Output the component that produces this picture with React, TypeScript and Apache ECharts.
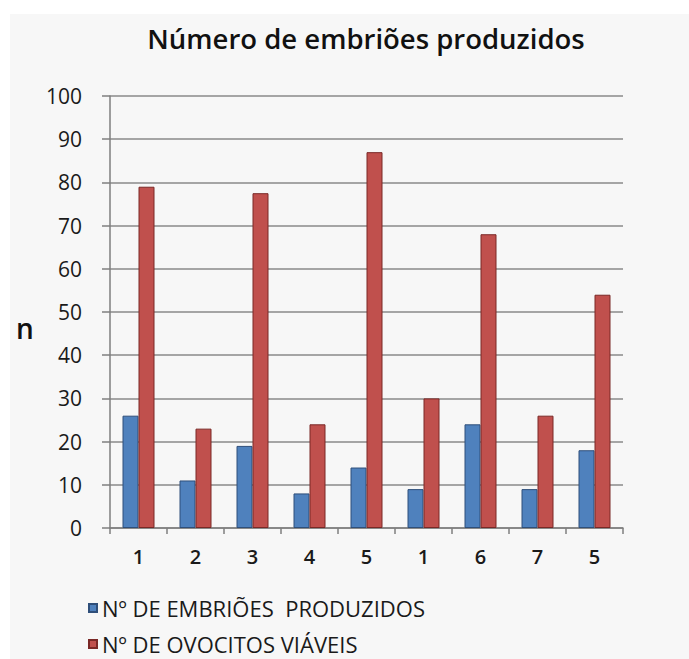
import React, { useEffect, useRef } from "react";
import * as echarts from "echarts";

const categories = ["1", "2", "3", "4", "5", "1", "6", "7", "5"];
const embrioes = [26, 11, 19, 8, 14, 9, 24, 9, 18];
const ovocitos = [79, 23, 77.5, 24, 87, 30, 68, 26, 54];
const seriesNames = ["Nº DE EMBRIÕES  PRODUZIDOS", "Nº DE OVOCITOS VIÁVEIS"];
const titleText = "Número de embriões produzidos";
const yAxisName = "n";

export default function App() {
  const ref = useRef<HTMLDivElement>(null);
  useEffect(() => {
    if (!ref.current) return;
    const chart = echarts.init(ref.current, undefined, { renderer: "svg" });
    const font = "'Open Sans', 'Noto Sans', sans-serif";
    const legendText = { fontSize: 22, lineHeight: 24, color: "#1a1a1a", fontFamily: font };
    chart.setOption({
      animation: false,
      backgroundColor: "#ffffff",
      graphic: [
        {
          type: "rect",
          z: -10,
          silent: true,
          shape: { x: 10, y: 14, width: 700, height: 660 },
          style: { fill: "#f7f7f7" },
        },
        {
          type: "text",
          left: 16,
          top: 314,
          style: { text: yAxisName, fontSize: 28, fontFamily: font, fill: "#111", fontWeight: 600 },
        },
      ],
      title: {
        text: titleText,
        left: 361,
        textAlign: "center",
        top: 19,
        textStyle: { fontSize: 27.5, fontWeight: 600, color: "#111", fontFamily: font },
      },
      legend: [
        {
          orient: "vertical",
          left: 88,
          top: 596,
          padding: 0,
          itemWidth: 8,
          itemHeight: 8,
          icon: "rect",
          textStyle: legendText,
          data: [seriesNames[0]],
        },
        {
          orient: "vertical",
          left: 88,
          top: 632,
          padding: 0,
          itemWidth: 8,
          itemHeight: 8,
          icon: "rect",
          textStyle: legendText,
          data: [seriesNames[1]],
        },
      ],
      grid: { left: 110, right: 66, top: 96, bottom: 131, containLabel: false },
      xAxis: {
        type: "category",
        data: categories,
        axisLine: { show: true, lineStyle: { color: "#7f7f7f", width: 1.5 } },
        axisTick: { show: true, length: 6, lineStyle: { color: "#7f7f7f", width: 1.5 } },
        axisLabel: { fontSize: 20, color: "#1a1a1a", fontFamily: font, margin: 18, fontWeight: 600 },
      },
      yAxis: {
        type: "value",
        min: 0,
        max: 100,
        interval: 10,
        axisLine: { show: true, lineStyle: { color: "#7f7f7f", width: 1.5 } },
        axisTick: { show: true, length: 8, lineStyle: { color: "#7f7f7f", width: 1.5 } },
        splitLine: { show: true, lineStyle: { color: "#8a8a8a", width: 1.5 } },
        axisLabel: { fontSize: 21, color: "#1a1a1a", fontFamily: font, margin: 28, fontWeight: 500 },
      },
      series: [
        {
          name: seriesNames[0],
          type: "bar",
          data: embrioes,
          barWidth: 16,
          barGap: "0%",
          itemStyle: { color: "#4f81bd", borderColor: "#2f4f7a", borderWidth: 1 },
        },
        {
          name: seriesNames[1],
          type: "bar",
          data: ovocitos,
          barWidth: 16,
          barGap: "0%",
          itemStyle: { color: "#c0504d", borderColor: "#7a2826", borderWidth: 1 },
        },
      ],
    });
    return () => chart.dispose();
  }, []);
  return <div ref={ref} style={{ width: 689, height: 659, position: "absolute", left: 0, top: 0 }} />;
}
